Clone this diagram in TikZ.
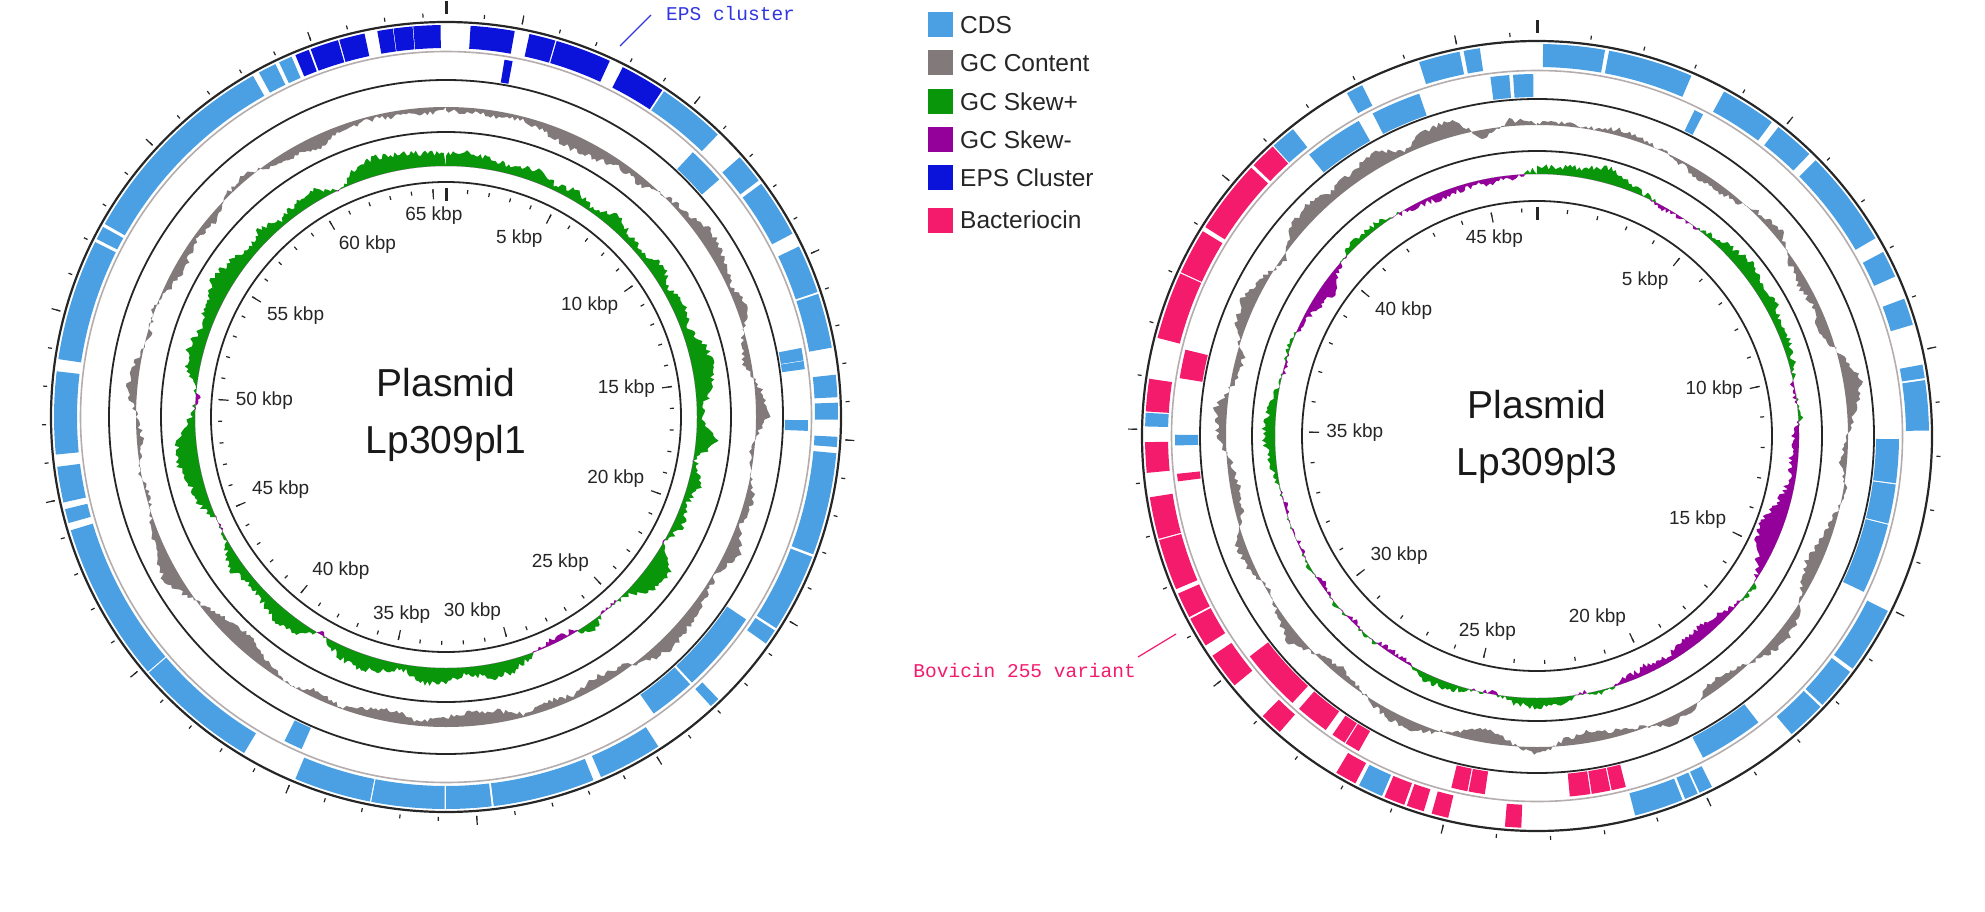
\documentclass[tikz,border=0pt]{standalone}
\usepackage{fontspec}
\setmainfont{Liberation Sans}
\newfontfamily\labelmono{Liberation Mono}
\usepackage{etoolbox}
\usetikzlibrary{positioning}
\definecolor{cdsblue}{HTML}{4AA0E2}
\definecolor{gcgray}{HTML}{827A7A}
\definecolor{skewplus}{HTML}{0A960A}
\definecolor{skewminus}{HTML}{93009A}
\definecolor{epsblue}{HTML}{0B12D9}
\definecolor{bactpink}{HTML}{F41A6C}
\definecolor{trackgray}{HTML}{B5ADAD}
\definecolor{inkdark}{HTML}{262626}

% one feature box on a ring: colour, inner r, outer r, start deg, end deg
\newcommand\ringbox[5]{%
  \fill[#1] ({90-(#4)}:#3) arc[start angle={90-(#4)}, end angle={90-(#5)}, radius=#3]
    -- ({90-(#5)}:#2) arc[start angle={90-(#5)}, end angle={90-(#4)}, radius=#2] -- cycle;}
\newcommand\fwdgene[3][cdsblue]{\ringbox{#1}{369}{392}{#2}{#3}}
\newcommand\revgene[3][cdsblue]{\ringbox{#1}{339}{362}{#2}{#3}}

% jagged track outline: base r, jitter, first value, values every 5 deg
\newcommand\buildtrack[4]{%
  \gdef\trackall{}\gdef\trackpos{}\gdef\trackneg{}%
  \foreach \v [count=\i, remember=\v as \vp (initially #3)] in {#4} {%
    \foreach \j in {0,...,9} {%
      \pgfmathsetmacro\ang{90-(\i-1)*5-\j/2}%
      \pgfmathsetmacro\dv{\vp+(\v-\vp)*\j/10+#2*(2*rnd-1)}%
      \pgfmathsetmacro\ra{#1+\dv}%
      \pgfmathsetmacro\rp{#1+max(\dv,0)}%
      \pgfmathsetmacro\rn{#1+min(\dv,0)}%
      \xappto\trackall{ -- (\ang:\ra)}%
      \xappto\trackpos{ -- (\ang:\rp)}%
      \xappto\trackneg{ -- (\ang:\rn)}%
    }}}

\begin{document}
\begin{tikzpicture}[x=1pt, y=1pt,
  tickline/.style={inkdark, line width=1.2pt},
  ringline/.style={inkdark, line width=1.8pt},
  kbplabel/.style={font=\fontsize{19}{19}\selectfont, text=inkdark, inner sep=1pt},
  plasmidname/.style={font=\fontsize{39}{39}\selectfont, text=black!90},
  legendtext/.style={font=\fontsize{24.5}{24.5}\selectfont, text=inkdark, anchor=west, inner sep=0pt}]
\useasboundingbox (0,0) rectangle (1985,-912);

% ---- plasmid Lp309pl1 ----
\begin{scope}[shift={(446,-417)}]
  \pgfmathsetmacro\dA{360/65.6}
  % forward strand
  \fwdgene{33.8}{43.9}
  \fwdgene{48.5}{52.9}
  \fwdgene{53.5}{62.1}
  \fwdgene{64.2}{71.4}
  \fwdgene{71.7}{79.8}
  \fwdgene{83.8}{87.1}
  \fwdgene{87.9}{90.4}
  \fwdgene{92.9}{94.4}
  \fwdgene{95.3}{110.5}
  \fwdgene{110.9}{122.6}
  \fwdgene{123}{125.3}
  \fwdgene{136}{137.5}
  \fwdgene{147.2}{156.7}
  \fwdgene{157.9}{173}
  \fwdgene{173.3}{180}
  \fwdgene{180.2}{191}
  \fwdgene{191.2}{202.6}
  \fwdgene{211}{229.3}
  \fwdgene{229.5}{253.2}
  \fwdgene{254.3}{256.4}
  \fwdgene{257.4}{262.7}
  \fwdgene{264.5}{276.7}
  \fwdgene{278.5}{296.5}
  \fwdgene{297}{299}
  \fwdgene{299.5}{330.5}
  \fwdgene{331.5}{334.2}
  \fwdgene{334.8}{336.8}
  % EPS cluster
  \fwdgene[epsblue]{337.4}{339.5}
  \fwdgene[epsblue]{339.8}{344}
  \fwdgene[epsblue]{344.2}{348}
  \fwdgene[epsblue]{349.9}{352.2}
  \fwdgene[epsblue]{352.3}{355.1}
  \fwdgene[epsblue]{355.2}{359.2}
  \fwdgene[epsblue]{3.6}{10.1}
  \fwdgene[epsblue]{12.3}{16.2}
  \fwdgene[epsblue]{16.4}{24.7}
  \fwdgene[epsblue]{26.8}{33.5}
  % reverse strand
  \revgene[epsblue]{9.3}{10.6}
  \revgene{43}{49}
  \revgene{79}{81}
  \revgene{81.1}{82.4}
  \revgene{90.5}{92.2}
  \revgene{124}{137.2}
  \revgene{137.6}{145}
  \revgene{203.5}{206.5}

  % GC content
  \pgfmathsetseed{17}
  \buildtrack{310}{2.5}{-5}{-4,-6,-3,-10,-14,-12,-6,-8,2,6,14,10,4,12,-4,-8,6,12,-4,-2,8,4,14,2,6,10,14,8,-6,-10,-4,-8,-2,-12,-14,-10,-4,-12,-8,-2,-8,0,-6,-14,-16,-8,4,16,10,4,-4,2,-6,-2,10,6,-4,2,-6,-10,-4,-8,2,6,-4,-8,-12,-6,-3,-5,-6,-5}
  \fill[gcgray, even odd rule] (90:310) \trackall -- cycle (0,0) circle[radius=310];
  % GC skew
  \pgfmathsetseed{29}
  \buildtrack{251}{3}{12}{14,10,8,12,6,10,4,14,8,4,14,6,12,8,18,22,12,4,20,2,14,4,10,0,22,18,2,-2,8,-3,-4,2,12,14,6,14,16,4,12,16,10,-3,14,16,10,6,14,4,-2,10,14,22,18,4,-3,12,16,10,14,20,16,8,14,6,10,12,-2,14,18,16,14,12}
  \fill[skewplus, even odd rule] (90:251) \trackpos -- cycle (0,0) circle[radius=251];
  \fill[skewminus, even odd rule] (90:251) \trackneg -- cycle (0,0) circle[radius=251];

  % rings
  \draw[inkdark, line width=2.2pt] (0,0) circle[radius=395];
  \draw[trackgray, line width=1.6pt] (0,0) circle[radius=365.5];
  \foreach \r in {337,285,235} \draw[ringline] (0,0) circle[radius=\r];

  % ticks and labels
  \foreach \k in {1,...,65} \draw[tickline] ({90-\k*\dA}:400) -- ({90-\k*\dA}:404);
  \foreach \k in {2,7,...,62} \draw[tickline] ({90-\k*\dA}:400) -- ({90-\k*\dA}:409);
  \draw[tickline, line width=3pt] (90:403) -- (90:416);
  \foreach \k in {1,...,65} \draw[tickline] ({90-\k*\dA}:228) -- ({90-\k*\dA}:224);
  \foreach \k in {5,10,...,65} \draw[tickline] ({90-\k*\dA}:228) -- ({90-\k*\dA}:218);
  \draw[tickline, line width=3pt] (90:229) -- (90:216);
  \foreach \k/\anc in {5/north east, 10/north east, 15/east, 20/south east, 25/south east,
      30/south east, 35/south, 40/south west, 45/south west, 50/west, 55/north west,
      60/north west, 65/north}
    \node[kbplabel, anchor=\anc] at ({90-\k*\dA}:212) {\k\ kbp};

  \node[plasmidname] (name1) at (0,34) {Plasmid};
  \node[plasmidname] (id1) at (0,-26) {Lp309pl1};
\end{scope}

% ---- plasmid Lp309pl3 ----
\begin{scope}[shift={(1537,-436)}]
  \pgfmathsetmacro\dA{360/46.5}
  % forward strand
  \fwdgene{0.9}{10}
  \fwdgene{10.6}{23.2}
  \fwdgene{28.5}{36.8}
  \fwdgene{38}{44}
  \fwdgene{45.3}{59.7}
  \fwdgene{62}{66}
  \fwdgene{69.5}{73.5}
  \fwdgene{79.5}{81.5}
  \fwdgene{81.8}{89.2}
  \fwdgene{116.5}{126.4}
  \fwdgene{127}{133.3}
  \fwdgene{133.7}{139.5}
  \fwdgene{153.5}{155.5}
  \fwdgene{155.8}{157.8}
  \fwdgene{158.2}{165.5}
  \fwdgene{203.3}{207}
  \fwdgene{271.4}{273.4}
  \fwdgene{317.8}{321.5}
  \fwdgene{331}{333.5}
  \fwdgene{342.5}{348.6}
  \fwdgene{349.2}{351.6}
  % bacteriocin
  \fwdgene[bactpink]{182.3}{184.7}
  \fwdgene[bactpink]{193.1}{195.6}
  \fwdgene[bactpink]{196.8}{199.4}
  \fwdgene[bactpink]{199.8}{202.9}
  \fwdgene[bactpink]{207.6}{210.8}
  \fwdgene[bactpink]{221}{224.4}
  \fwdgene[bactpink]{230.5}{235.9}
  \fwdgene[bactpink]{237.7}{242.2}
  \fwdgene[bactpink]{242.5}{246.3}
  \fwdgene[bactpink]{247}{254.6}
  \fwdgene[bactpink]{254.8}{261}
  \fwdgene[bactpink]{264.6}{269.1}
  \fwdgene[bactpink]{273.6}{278.4}
  \fwdgene[bactpink]{284.5}{294.5}
  \fwdgene[bactpink]{294.7}{301.5}
  \fwdgene[bactpink]{302.2}{313.2}
  \fwdgene[bactpink]{313.7}{317.6}
  % reverse strand
  \revgene{25.8}{27.3}
  \revgene{90.5}{97.5}
  \revgene{97.7}{104}
  \revgene{104.2}{115.5}
  \revgene{142.3}{152.7}
  \revgene{268.5}{270.2}
  \revgene{321}{330.5}
  \revgene{333}{341}
  \revgene{352.6}{355.6}
  \revgene{356.2}{359.4}
  \revgene[bactpink]{165.8}{168.1}
  \revgene[bactpink]{168.3}{171.3}
  \revgene[bactpink]{171.5}{174.8}
  \revgene[bactpink]{188.3}{190.9}
  \revgene[bactpink]{191.1}{193.7}
  \revgene[bactpink]{209.5}{211.9}
  \revgene[bactpink]{212.1}{214.4}
  \revgene[bactpink]{215.7}{221.1}
  \revgene[bactpink]{222.5}{232.5}
  \revgene[bactpink]{262.8}{264}
  \revgene[bactpink]{279.2}{283.8}

  % GC content
  \pgfmathsetseed{41}
  \buildtrack{311}{2.5}{2}{4,2,6,3,0,-6,-8,-4,4,8,-4,-10,-6,-12,4,18,10,-2,-6,4,-4,-10,-14,-6,8,12,4,-6,-10,4,8,-2,-6,-12,-6,8,-4,-14,-6,4,10,6,-2,-8,-2,12,6,-4,6,10,-6,-10,-4,8,12,-4,-8,10,14,6,-6,12,16,8,12,16,4,14,16,-10,6,2}
  \fill[gcgray, even odd rule] (90:311) \trackall -- cycle (0,0) circle[radius=311];
  % GC skew
  \pgfmathsetseed{53}
  \buildtrack{262}{3}{6}{8,10,16,8,2,-3,-2,3,8,14,10,12,6,8,4,-4,5,-6,-8,-6,-12,-22,-20,-8,4,-2,-8,-12,-10,-6,-8,-4,3,-2,8,10,6,-3,2,6,8,-2,-4,3,-3,2,-4,3,-2,2,-3,4,6,12,8,2,-2,3,-3,-8,-14,-3,4,6,3,-3,-5,-6,-4,-5,-3,6}
  \fill[skewplus, even odd rule] (90:262) \trackpos -- cycle (0,0) circle[radius=262];
  \fill[skewminus, even odd rule] (90:262) \trackneg -- cycle (0,0) circle[radius=262];

  % rings
  \draw[inkdark, line width=2.2pt] (0,0) circle[radius=395];
  \draw[trackgray, line width=1.6pt] (0,0) circle[radius=365.5];
  \foreach \r in {337,285,235} \draw[ringline] (0,0) circle[radius=\r];

  % ticks and labels
  \foreach \k in {1,...,46} \draw[tickline] ({90-\k*\dA}:400) -- ({90-\k*\dA}:404);
  \foreach \k in {5,10,...,45} \draw[tickline] ({90-\k*\dA}:400) -- ({90-\k*\dA}:409);
  \draw[tickline, line width=3pt] (90:403) -- (90:416);
  \foreach \k in {1,...,46} \draw[tickline] ({90-\k*\dA}:228) -- ({90-\k*\dA}:224);
  \foreach \k in {5,10,...,45} \draw[tickline] ({90-\k*\dA}:228) -- ({90-\k*\dA}:218);
  \draw[tickline, line width=3pt] (90:229) -- (90:216);
  \foreach \k/\anc in {5/north east, 10/east, 15/south east, 20/south east, 25/south,
      30/south west, 35/west, 40/north west, 45/north}
    \node[kbplabel, anchor=\anc] at ({90-\k*\dA}:212) {\k\ kbp};

  \node[plasmidname] (name3) at (0,31) {Plasmid};
  \node[plasmidname] (id3) at (0,-29) {Lp309pl3};
\end{scope}

% legend
\foreach \y/\c/\t in {25/cdsblue/CDS, 63/gcgray/GC Content, 102/skewplus/GC Skew+,
    140/skewminus/GC Skew-, 178/epsblue/EPS Cluster, 220/bactpink/Bacteriocin}{
  \fill[\c] (928,{-\y+12.5}) rectangle ++(25,-25);
  \node[legendtext] at (960,-\y) {\t};
}

% callouts
\node[font=\labelmono\fontsize{19.5}{19.5}\selectfont, text=epsblue!85, anchor=west, inner sep=0pt] (epslabel) at (666,-14) {EPS cluster};
\coordinate (epstip) at (620,-46);
\coordinate (epsend) at (651,-15);
\draw[epsblue!85, line width=1.2pt] (epstip) -- (epsend);

\node[font=\labelmono\fontsize{19.5}{19.5}\selectfont, text=bactpink, anchor=east, inner sep=0pt] (bovlabel) at (1136,-671) {Bovicin 255 variant};
\coordinate (bovtip) at (1176,-634);
\coordinate (bovend) at (1138,-657);
\draw[bactpink, line width=1.2pt] (bovend) -- (bovtip);
\end{tikzpicture}
\end{document}
